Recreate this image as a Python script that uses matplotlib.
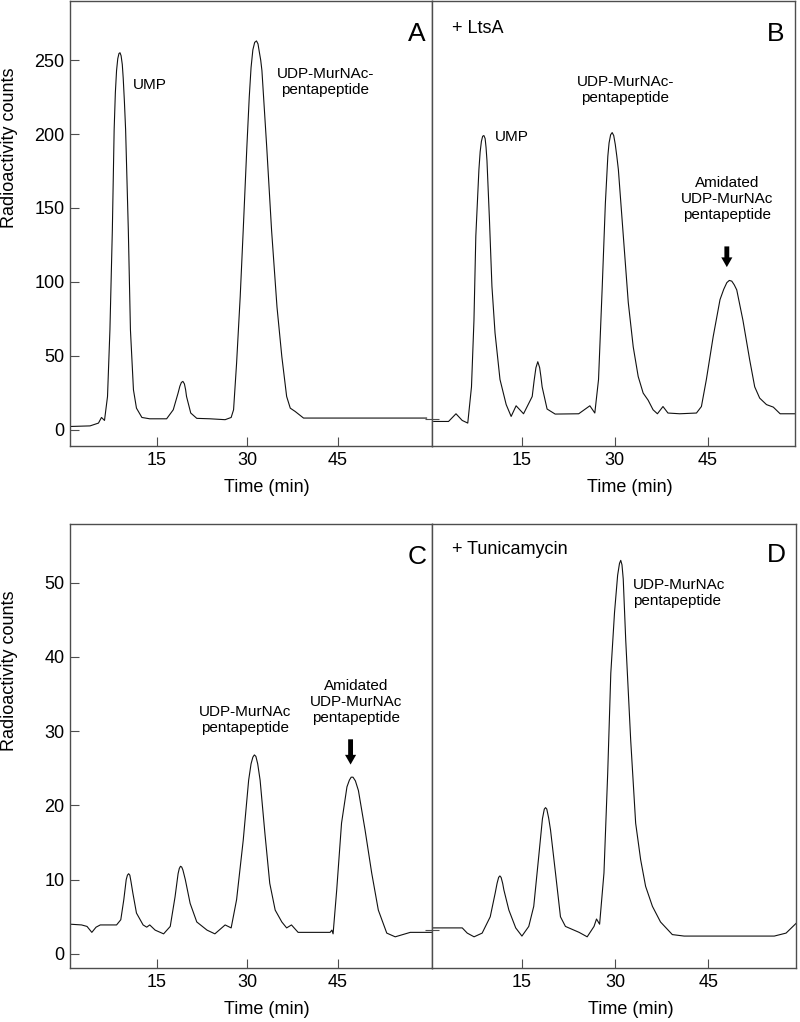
import matplotlib
matplotlib.use("Agg")
import matplotlib.pyplot as plt

plt.rcParams['font.family'] = ['Liberation Sans', 'DejaVu Sans']

# chromatogram traces: time (min) and radioactivity counts
a_time = [0.6, 3.9, 5.3, 5.8, 6.3, 6.8, 7.2, 7.6, 7.9, 8.1, 8.3, 8.5, 8.7, 8.87, 9.05, 9.25, 9.4,
          9.6, 9.8, 10.25, 10.6, 11.1, 11.6, 12.5, 13.8, 16.6, 17.7, 18.5, 18.8, 19.05, 19.3,
          19.55, 19.75, 19.9, 20.6, 21.6, 23.8, 26.3, 27.3, 27.7, 28.2, 28.8, 29.3, 29.9, 30.3,
          30.6, 30.9, 31.2, 31.5, 31.75, 31.95, 32.2, 32.4, 33.2, 34.0, 34.9, 35.7, 36.5, 37.1,
          37.9, 39.3, 42.0, 59.7]
a_counts = [2.2, 2.6, 4.5, 8.3, 6.3, 22.5, 67.6, 135, 203, 228, 243, 251, 254.5, 255, 253, 247, 238,
            222, 203, 135, 67.6, 27, 14.6, 8.3, 7.4, 7.4, 13.5, 24.8, 29.5, 32, 32.7,
            31, 27, 22.5, 11.3, 7.7, 7.4, 6.8, 8.3, 13.5, 45, 90, 135, 191, 225,
            245, 257, 262, 263, 261, 256, 250, 243, 191, 135, 83, 49.5, 22.5, 14.6,
            12.4, 7.9, 7.9, 7.9]

b_time = [0.8, 3.2, 4.4, 5.4, 6.3, 6.9, 7.3, 7.6, 8.1, 8.3, 8.5, 8.7, 8.9, 9.1, 9.25, 9.4, 9.8,
          10.2, 10.7, 11.5, 12.5, 13.3, 14.1, 15.3, 16.7, 17.0, 17.3, 17.6, 17.9, 18.1, 18.3,
          19.1, 20.4, 24.2, 26.0, 26.8, 27.4, 28.0, 28.5, 28.9, 29.1, 29.35, 29.6, 29.85, 30.1,
          30.35, 30.6, 31.4, 32.2, 33.0, 33.8, 34.6, 35.4, 36.2, 36.9, 37.8, 38.6, 40.5, 43.2,
          44.0, 44.8, 45.9, 47.0, 47.6, 48.1, 48.5, 48.9, 49.3, 49.7, 50.7, 51.8, 52.6, 53.4,
          54.5, 55.6, 56.7, 59.1]
b_counts = [5.6, 5.6, 10.8, 6.3, 4.5, 29, 74, 131, 176, 188, 195, 198.5, 199, 197, 191, 182, 142,
            97, 65.5, 34, 17, 9, 16.2, 10.8, 22.5, 33, 42, 46, 42, 36, 29,
            14, 10.6, 10.8, 16.2, 11.3, 34, 97, 153, 185, 194, 199.5, 201, 199, 193,
            185, 176, 131, 86, 56, 36, 24.8, 20, 13.5, 10.8, 15.7, 11.3, 10.8, 11.3,
            15.7, 34, 63, 88, 95, 99.5, 101, 100.5, 98, 94.6, 74, 47, 29, 21.4,
            17, 15.3, 10.8, 10.8]

c_time = [0.6, 2.5, 3.4, 4.2, 4.9, 5.6, 8.3, 9.0, 9.5, 9.9, 10.1, 10.3, 10.5, 10.7, 11.0, 11.6,
          12.7, 13.3, 13.8, 14.7, 16.1, 17.2, 18.0, 18.5, 18.7, 18.9, 19.1, 19.3, 19.7, 20.5,
          21.6, 23.3, 24.6, 26.3, 27.3, 28.2, 29.3, 30.2, 30.6, 30.9, 31.15, 31.4, 31.7, 32.1,
          32.9, 33.7, 34.6, 35.7, 36.5, 37.3, 38.4, 41.5, 43.7, 44.0, 44.2, 44.8, 45.6, 46.5,
          46.9, 47.2, 47.5, 47.9, 48.4, 49.5, 50.6, 51.7, 53.1, 54.5, 57.0, 60.6]
c_counts = [4.0, 3.9, 3.7, 2.9, 3.6, 3.9, 3.9, 4.6, 7.3, 10.0, 10.6, 10.8, 10.6, 9.7, 8.2, 5.5,
            3.9, 3.6, 3.9, 3.2, 2.7, 3.7, 7.7, 10.8, 11.5, 11.8, 11.7, 11.3, 10, 6.8,
            4.3, 3.2, 2.7, 3.9, 3.5, 7.3, 15.3, 23.4, 25.6, 26.5, 26.8, 26.6, 25.6, 23.4,
            16.2, 9.5, 5.9, 4.3, 3.5, 3.9, 2.9, 2.9, 2.9, 3.2, 2.7, 8.6, 17.6, 22.5,
            23.4, 23.8, 23.8, 23.3, 22, 16.7, 10.9, 5.9, 2.8, 2.3, 2.9, 2.9]

d_time = [0.5, 5.4, 6.2, 7.3, 8.6, 9.9, 10.7, 11.0, 11.25, 11.45, 11.65, 11.9, 12.1, 12.9, 14.0,
          15.0, 16.1, 16.9, 17.7, 18.3, 18.6, 18.8, 19.0, 19.3, 19.6, 20.4, 21.2, 22.0, 24.2,
          25.5, 26.6, 27.0, 27.5, 28.2, 28.8, 29.3, 29.9, 30.4, 30.7, 30.9, 31.1, 31.3, 31.7,
          32.5, 33.3, 34.1, 34.9, 36.0, 37.3, 39.2, 41.1, 49.1, 55.6, 57.5, 59.1]
d_counts = [3.5, 3.5, 2.8, 2.3, 2.8, 5.0, 8.2, 9.5, 10.3, 10.5, 10.3, 9.5, 8.6, 5.9, 3.5,
            2.4, 3.7, 6.4, 13.1, 18.2, 19.5, 19.7, 19.5, 18.3, 16.7, 10.9, 5.0, 3.7, 2.9,
            2.3, 3.7, 4.7, 4.0, 10.9, 24.3, 37.8, 46, 51, 52.6, 53.0, 52.4, 50.5, 42.3,
            28.8, 17.6, 12.7, 9.1, 6.4, 4.3, 2.6, 2.4, 2.4, 2.4, 2.8, 4.1]

x_ticks = [15, 30, 45]
top_yticks = [0, 50, 100, 150, 200, 250]
bottom_yticks = [0, 10, 20, 30, 40, 50]

spine_col = '#4d4d4d'
W, H = 800, 1022
fig = plt.figure(figsize=(W / 100, H / 100), dpi=100)


def make_axes(x0, y0, x1, y1):
    """axes from pixel box (left, top, right, bottom)"""
    ax = fig.add_axes([x0 / W, 1 - y1 / H, (x1 - x0) / W, (y1 - y0) / H])
    for s in ax.spines.values():
        s.set_color(spine_col)
        s.set_linewidth(1.0)
    ax.tick_params(direction='in', length=6.5, width=0.8, color=spine_col,
                   labelsize=13, pad=4)
    ax.set_xticks(x_ticks)
    return ax


def draw_arrow(ax, x, y_tail, y_tip):
    ax.annotate('', xy=(x, y_tip), xytext=(x, y_tail),
                arrowprops=dict(arrowstyle='simple,head_length=0.7,head_width=0.8,tail_width=0.35',
                                color='black', lw=0, shrinkA=0, shrinkB=0))


ax_a = make_axes(70, 1, 432, 446)
ax_b = make_axes(432, 1, 795, 446)
ax_c = make_axes(70, 524, 432, 968)
ax_d = make_axes(432, 524, 796, 968)

for ax, t, c in [(ax_a, a_time, a_counts), (ax_b, b_time, b_counts),
                 (ax_c, c_time, c_counts), (ax_d, d_time, d_counts)]:
    ax.plot(t, c, color='#111111', lw=0.8, solid_joinstyle='round')
    ax.set_xlabel('Time (min)', fontsize=13)
    ax.xaxis.set_label_coords(0.545, -0.074)

ax_a.set_xlim(0.58, 60.6)
ax_c.set_xlim(0.58, 60.6)
ax_b.set_xlim(0.53, 59.1)
ax_d.set_xlim(0.53, 59.1)
ax_a.set_ylim(-11, 290)
ax_b.set_ylim(-11, 290)
ax_c.set_ylim(-1.9, 57.9)
ax_d.set_ylim(-1.9, 57.9)

ax_a.set_yticks(top_yticks)
ax_c.set_yticks(bottom_yticks)
for ax in (ax_a, ax_c):
    ax.set_ylabel('Radioactivity counts', fontsize=13, va='center')
    ax.yaxis.set_label_coords(-0.168, 0.67)

# right panels: single unlabeled tick on the shared spine
ax_b.set_yticks([7])
ax_d.set_yticks([3.2])
for ax in (ax_b, ax_d):
    ax.set_yticklabels([])
    ax.tick_params(axis='y', direction='inout', length=10)

# panel A
ax_a.text(11.0, 233, 'UMP', fontsize=11, va='center')
ax_a.text(42.9, 235, 'UDP-MurNAc-\npentapeptide', fontsize=11, ha='center', va='center')
ax_a.text(58.1, 268, 'A', fontsize=19, ha='center', va='center')

# panel B
ax_b.text(3.8, 271.6, '+ LtsA', fontsize=13, va='center')
ax_b.text(55.9, 268, 'B', fontsize=19, ha='center', va='center')
ax_b.text(10.7, 198, 'UMP', fontsize=11, va='center')
ax_b.text(31.7, 230, 'UDP-MurNAc-\npentapeptide', fontsize=11, ha='center', va='center')
ax_b.text(48.1, 156, 'Amidated\nUDP-MurNAc\npentapeptide', fontsize=11, ha='center', va='center')
draw_arrow(ax_b, 48.1, 124, 110)

# panel C
ax_c.text(29.6, 31.5, 'UDP-MurNAc\npentapeptide', fontsize=11, ha='center', va='center')
ax_c.text(48.0, 33.9, 'Amidated\nUDP-MurNAc\npentapeptide', fontsize=11, ha='center', va='center')
ax_c.text(58.1, 53.4, 'C', fontsize=19, ha='center', va='center')
draw_arrow(ax_c, 47.1, 28.9, 25.5)

# panel D
ax_d.text(3.8, 54.5, '+ Tunicamycin', fontsize=13, va='center')
ax_d.text(55.9, 53.7, 'D', fontsize=19, ha='center', va='center')
ax_d.text(32.8, 48.6, 'UDP-MurNAc\npentapeptide', fontsize=11, va='center')

fig.savefig('out.png', dpi=100)
